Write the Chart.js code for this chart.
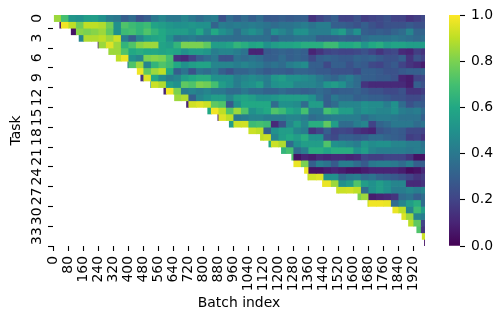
<!DOCTYPE html>
<html>
<head>
<meta charset="utf-8">
<title>Task by batch heatmap</title>
<script src="https://cdn.jsdelivr.net/npm/chart.js@4"></script>
<style>
  html, body { margin: 0; padding: 0; background: #fff; }
  canvas { position: absolute; top: 0; }
  #heatmap { left: 0; }
  #colorbar { left: 449px; }
</style>
</head>
<body>
<canvas id="heatmap" width="501" height="321"></canvas>
<canvas id="colorbar" width="52" height="321"></canvas>
<script>
var binSize = 40;
var lastBatch = 1980;
var xTicks = [0, 80, 160, 240, 320, 400, 480, 560, 640, 720, 800, 880, 960, 1040, 1120, 1200, 1280, 1360, 1440, 1520, 1600, 1680, 1760, 1840, 1920];
var yTicks = [0, 3, 6, 9, 12, 15, 18, 21, 24, 27, 30, 33];
var colorTicks = [0, 0.2, 0.4, 0.6, 0.8, 1];
var viridis = ['#440154', '#482475', '#414487', '#355f8d', '#2a788e', '#21918c', '#22a884', '#44bf70', '#7ad151', '#bddf26', '#fde725'];

// batch where each task shows up
var taskStarts = [0, 32, 93, 135, 236, 293, 333, 395, 445, 464, 517, 587, 644, 708, 821, 875, 936, 1040, 1102, 1147, 1214, 1269, 1280, 1337, 1355, 1433, 1508, 1622, 1675, 1808, 1856, 1892, 1936, 1965, 1977];

// accuracy per 40 batches, from the bin holding the start until the end
var task0 = [.85, .7, .52, .5, .55, .55, .5, .42, .4, .3, .35, .25, .3, .4, .45, .4, .4, .45, .4, .35, .4, .42, .25, .35, .3, .35, .3, .35, .28, .28, .3, .28, .3, .3, .15, .2, .25, .3, .2, .2, .25, .18, .2, .22, .25, .2, .2, .15, .18, .22];
var task1 = [.05, .98, .9, .78, .9, .9, .88, .78, .5, .72, .68, .65, .68, .58, .55, .52, .5, .5, .52, .5, .5, .32, .42, .4, .42, .4, .42, .4, .38, .35, .38, .38, .4, .42, .38, .42, .42, .3, .3, .28, .25, .3, .25, .22, .25, .25, .25, .28, .25, .25];
var task2 = [.05, .82, .8, .82, .85, .75, .5, .68, .7, .65, .72, .65, .6, .55, .55, .55, .5, .6, .45, .6, .5, .45, .35, .45, .5, .45, .35, .5, .45, .4, .5, .5, .42, .42, .42, .5, .55, .4, .5, .3, .28, .3, .28, .32, .35, .45, .32, .32];
var task3 = [.45, .88, .88, .9, .85, .92, .42, .3, .45, .55, .58, .6, .5, .38, .4, .42, .38, .38, .36, .36, .36, .35, .36, .36, .36, .36, .3, .36, .36, .38, .38, .38, .3, .3, .3, .32, .3, .3, .35, .38, .38, .38, .4, .38, .36, .34, .36];
var task4 = [.1, .85, .95, .85, .65, .72, .82, .85, .85, .58, .55, .65, .8, .8, .8, .75, .55, .55, .58, .65, .62, .58, .6, .5, .55, .58, .58, .6, .62, .62, .62, .68, .68, .6, .6, .62, .52, .6, .62, .55, .58, .58, .55, .55, .55];
var task5 = [.85, .85, .72, .6, .62, .6, .6, .58, .6, .58, .5, .55, .55, .52, .42, .45, .45, .42, .38, .1, .1, .28, .3, .32, .3, .32, .3, .1, .15, .2, .22, .2, .2, .22, .25, .2, .15, .2, .22, .12, .1, .18, .15];
var task6 = [.9, .97, .5, .45, .8, .82, .8, .7, .15, .12, .2, .3, .35, .4, .25, .25, .38, .35, .38, .35, .3, .3, .35, .3, .32, .3, .22, .3, .32, .3, .28, .28, .32, .3, .32, .28, .25, .25, .3, .15, .25, .2];
var task7 = [.4, .72, .85, .45, .65, .72, .68, .6, .5, .55, .58, .58, .45, .45, .45, .42, .45, .42, .4, .35, .38, .35, .42, .45, .48, .3, .3, .22, .3, .3, .25, .3, .28, .22, .2, .25, .28, .2, .15, .12, .08];
var task8 = [.98, .75, .85, .9, .6, .3, .38, .25, .38, .35, .4, .3, .25, .32, .32, .35, .32, .28, .3, .3, .28, .32, .32, .3, .28, .28, .25, .25, .25, .22, .3, .3, .28, .25, .25, .28, .3, .3, .32];
var task9 = [.15, .95, .6, .48, .42, .45, .55, .6, .62, .62, .5, .5, .5, .42, .45, .48, .45, .42, .52, .55, .5, .5, .48, .45, .4, .35, .32, .38, .42, .35, .3, .3, .28, .28, .25, .1, .08, .2, .22];
var task10 = [.5, .92, .88, .55, .5, .75, .72, .8, .78, .7, .55, .5, .42, .48, .5, .55, .42, .5, .52, .52, .45, .45, .45, .42, .52, .55, .5, .4, .35, .15, .12, .12, .12, .12, .12, .08, .3, .25];
var task11 = [.1, .98, .8, .42, .45, .42, .45, .4, .4, .35, .35, .4, .35, .35, .32, .32, .35, .32, .32, .3, .32, .35, .32, .28, .3, .3, .32, .28, .25, .25, .22, .22, .25, .15, .15, .18];
var task12 = [.85, .88, .3, .45, .5, .55, .55, .45, .55, .58, .55, .5, .5, .52, .55, .55, .55, .55, .5, .38, .3, .4, .35, .35, .3, .32, .3, .3, .28, .25, .25, .22, .22, .25];
var task13 = [.1, .93, .95, .92, .75, .72, .28, .5, .6, .6, .6, .6, .35, .5, .5, .48, .35, .55, .55, .3, .35, .45, .45, .45, .5, .48, .48, .42, .5, .35, .25, .3, .28];
var task14 = [.6, .98, .9, .72, .85, .72, .5, .55, .6, .72, .68, .6, .55, .7, .42, .42, .7, .65, .55, .55, .45, .5, .48, .45, .45, .5, .42, .4, .42, .35];
var task15 = [.1, .95, .9, .4, .42, .45, .45, .42, .42, .42, .45, .45, .42, .35, .38, .4, .42, .42, .42, .42, .35, .4, .42, .42, .4, .38, .38, .38, .3];
var task16 = [.55, .92, .93, .68, .7, .68, .12, .25, .45, .55, .45, .62, .62, .75, .55, .35, .35, .42, .45, .2, .32, .35, .4, .4, .4, .35, .38];
var task17 = [.92, .9, .3, .5, .55, .55, .45, .42, .15, .2, .3, .2, .22, .2, .15, .12, .1, .25, .28, .3, .28, .22, .22, .2];
var task18 = [.9, .92, .45, .55, .6, .55, .62, .5, .5, .25, .22, .3, .3, .28, .3, .35, .35, .32, .3, .28, .18, .2, .15];
var task19 = [.6, .92, .88, .35, .5, .55, .55, .55, .72, .5, .48, .45, .42, .52, .48, .5, .5, .45, .45, .42, .42, .38];
var task20 = [.65, .7, .35, .42, .62, .62, .58, .62, .62, .62, .5, .55, .45, .42, .42, .42, .42, .4, .42, .4];
var task21 = [.72, .05, .1, .08, .12, .1, .12, .12, .1, .12, .2, .18, .18, .2, .2, .2, .15, .05, .05];
var task22 = [.97, .8, .3, .42, .38, .28, .42, .42, .35, .28, .4, .42, .42, .4, .35, .42, .3, .3];
var task23 = [.97, .05, .05, .08, .1, .08, .05, .05, .08, .1, .1, .1, .1, .08, .03, .05, .12];
var task24 = [.9, .93, .95, .5, .5, .35, .4, .42, .35, .38, .32, .3, .28, .25, .2, .15, .18];
var task25 = [.97, .97, .85, .5, .55, .72, .55, .5, .55, .5, .45, .45, .12, .12, .15];
var task26 = [.92, .92, .93, .9, .35, .5, .55, .5, .42, .42, .45, .42, .45];
var task27 = [.8, .85, .08, .1, .12, .15, .35, .38, .3, .35];
var task28 = [.9, .98, .98, .97, .35, .45, .55, .62, .35];
var task29 = [.97, .9, .45, .68, .55];
var task30 = [.95, .85, .45, .42];
var task31 = [.9, .75, .2];
var task32 = [.72, .15];
var task33 = [.92];
var task34 = [.05];

var taskValues = [task0, task1, task2, task3, task4, task5, task6, task7, task8, task9, task10, task11, task12, task13, task14, task15, task16, task17, task18, task19, task20, task21, task22, task23, task24, task25, task26, task27, task28, task29, task30, task31, task32, task33, task34];

function hexToRgb(hex) {
  return [parseInt(hex.substr(1, 2), 16), parseInt(hex.substr(3, 2), 16), parseInt(hex.substr(5, 2), 16)];
}

function viridisColor(v) {
  var pos = Math.min(Math.max(v, 0), 1) * (viridis.length - 1);
  var i = Math.min(Math.floor(pos), viridis.length - 2);
  var a = hexToRgb(viridis[i]);
  var b = hexToRgb(viridis[i + 1]);
  var t = pos - i;
  return 'rgb(' + Math.round(a[0] + (b[0] - a[0]) * t) + ',' + Math.round(a[1] + (b[1] - a[1]) * t) + ',' + Math.round(a[2] + (b[2] - a[2]) * t) + ')';
}

var fontFamily = '"DejaVu Sans"';
var fontSize = 13.9;
var taskLabels = taskValues.map(function(v, i) { return String(i); });

// one dataset per task, each cell is a floating bar on the batch axis
var datasets = taskValues.map(function(values, i) {
  var firstBin = Math.floor(taskStarts[i] / binSize);
  return {
    data: values.map(function(v, j) {
      var bin = firstBin + j;
      return { x: [Math.max(bin * binSize, taskStarts[i]), Math.min((bin + 1) * binSize, lastBatch)], y: taskLabels[i] };
    }),
    backgroundColor: values.map(viridisColor),
    borderWidth: 0
  };
});

new Chart(document.getElementById('heatmap'), {
  type: 'bar',
  data: { labels: taskLabels, datasets: datasets },
  options: {
    indexAxis: 'y',
    responsive: false,
    animation: false,
    events: [],
    layout: { padding: { left: 0, right: 76, top: 15, bottom: 0 } },
    datasets: { bar: { grouped: false, barPercentage: 1, categoryPercentage: 1 } },
    plugins: { legend: { display: false }, tooltip: { enabled: false } },
    scales: {
      x: {
        type: 'linear',
        min: -4,
        max: lastBatch,
        afterBuildTicks: function(scale) {
          scale.ticks = xTicks.map(function(v) { return { value: v }; });
        },
        afterFit: function(scale) { scale.height = 75; },
        grid: { display: true, drawOnChartArea: false, tickLength: 5, tickWidth: 1.1, tickColor: '#000' },
        border: { display: false },
        ticks: {
          autoSkip: false,
          minRotation: 90,
          maxRotation: 90,
          padding: 5,
          color: '#000',
          font: { family: fontFamily, size: fontSize },
          callback: function(v) { return String(v); }
        },
        title: {
          display: true,
          text: 'Batch index',
          color: '#000',
          font: { family: fontFamily, size: fontSize },
          padding: { top: 0, bottom: 9 }
        }
      },
      y: {
        type: 'category',
        afterBuildTicks: function(scale) {
          scale.ticks = yTicks.map(function(v) { return { value: v, label: String(v) }; });
        },
        afterFit: function(scale) { scale.width = 53; },
        grid: { display: true, drawOnChartArea: false, tickLength: 5, tickWidth: 1.1, tickColor: '#000' },
        border: { display: false },
        ticks: {
          autoSkip: false,
          minRotation: 90,
          maxRotation: 90,
          crossAlign: 'center',
          padding: 2,
          color: '#000',
          font: { family: fontFamily, size: fontSize }
        },
        title: {
          display: true,
          text: 'Task',
          color: '#000',
          font: { family: fontFamily, size: fontSize },
          padding: { top: 8, bottom: 0 }
        }
      }
    }
  }
});

function colorbarFill(context) {
  var area = context.chart.chartArea;
  if (!area) return viridis[0];
  var g = context.chart.ctx.createLinearGradient(0, area.bottom, 0, area.top);
  viridis.forEach(function(c, i) { g.addColorStop(i / (viridis.length - 1), c); });
  return g;
}

new Chart(document.getElementById('colorbar'), {
  type: 'bar',
  data: { labels: ['scale'], datasets: [{ data: [[0, 1]], backgroundColor: colorbarFill, borderWidth: 0 }] },
  options: {
    responsive: false,
    animation: false,
    events: [],
    layout: { padding: { left: 0, right: 0, top: 15, bottom: 75 } },
    datasets: { bar: { barPercentage: 1, categoryPercentage: 1 } },
    plugins: { legend: { display: false }, tooltip: { enabled: false } },
    scales: {
      x: { display: false },
      y: {
        type: 'linear',
        position: 'right',
        min: 0,
        max: 1,
        afterBuildTicks: function(scale) {
          scale.ticks = colorTicks.map(function(v) { return { value: v }; });
        },
        afterFit: function(scale) { scale.width = 41; },
        grid: { display: true, drawOnChartArea: false, tickLength: 5, tickWidth: 1.1, tickColor: '#000' },
        border: { display: false },
        ticks: {
          padding: 6,
          color: '#000',
          font: { family: fontFamily, size: fontSize },
          callback: function(v) { return v.toFixed(1); }
        }
      }
    }
  }
});
</script>
</body>
</html>
